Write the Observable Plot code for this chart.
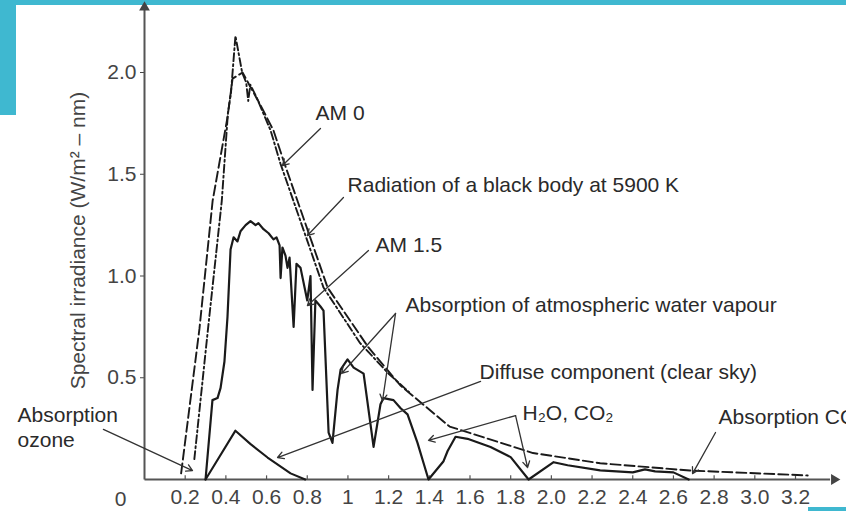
<!DOCTYPE html>
<html><head><meta charset="utf-8">
<script src="https://cdn.jsdelivr.net/npm/d3@7"></script>
<script src="https://cdn.jsdelivr.net/npm/@observablehq/plot@0.6"></script>
<style>
html,body{margin:0;padding:0;background:#fff;}
#wrap{position:relative;width:846px;height:511px;overflow:hidden;background:#fff;}
#wrap svg{position:absolute;left:0;top:0;}
.deco{position:absolute;background:#3fb8d0;}
</style></head><body>
<div id="wrap">
  <div class="deco" style="left:0;top:0;width:846px;height:5px"></div>
  <div class="deco" style="left:0;top:0;width:16px;height:115px"></div>
  <div class="deco" style="left:808px;top:507px;width:38px;height:4px"></div>
</div>
<script>
// ---- data (wavelength in µm, irradiance in W/m²·nm) ----
const blackBodyX = [0.18, 0.27, 0.335, 0.408, 0.433, 0.482, 0.52, 0.57, 0.634, 0.688, 0.82, 0.90, 1.10, 1.26, 1.50, 1.91, 2.24, 2.68, 3.26];
const blackBodyY = [0.03, 0.74, 1.37, 1.78, 1.97, 2.00, 1.93, 1.84, 1.715, 1.553, 1.174, 0.943, 0.65, 0.46, 0.26, 0.13, 0.08, 0.044, 0.02];

const am0X = [0.245, 0.31, 0.38, 0.41, 0.425, 0.447, 0.48, 0.50, 0.51, 0.52, 0.55, 0.62, 0.668, 0.80, 0.88, 1.06, 1.20, 1.30];
const am0Y = [0.10, 0.72, 1.37, 1.80, 1.90, 2.18, 2.00, 1.95, 1.86, 1.94, 1.88, 1.715, 1.553, 1.174, 0.943, 0.67, 0.52, 0.43];

const am15X = [0.30, 0.334, 0.359, 0.374, 0.393, 0.408, 0.423, 0.438, 0.457, 0.472, 0.497, 0.521, 0.546, 0.56, 0.585, 0.61, 0.634, 0.649, 0.664, 0.669, 0.678, 0.693, 0.703, 0.713, 0.733, 0.747, 0.767, 0.80, 0.816, 0.826, 0.84, 0.865, 0.88, 0.905, 0.924, 0.949, 0.964, 0.998, 1.028, 1.077, 1.126, 1.160, 1.175, 1.224, 1.259, 1.293, 1.342, 1.372, 1.396, 1.470, 1.490, 1.529, 1.588, 1.701, 1.80, 1.888, 2.011, 2.08, 2.24, 2.40, 2.46, 2.51, 2.60, 2.675];
const am15Y = [0.00, 0.39, 0.40, 0.45, 0.58, 0.80, 1.13, 1.19, 1.17, 1.22, 1.25, 1.27, 1.25, 1.26, 1.23, 1.21, 1.18, 1.19, 1.15, 0.99, 1.14, 1.10, 1.04, 1.09, 0.75, 1.06, 1.04, 0.88, 1.00, 0.44, 0.88, 0.85, 0.83, 0.23, 0.18, 0.44, 0.54, 0.59, 0.55, 0.52, 0.16, 0.37, 0.40, 0.39, 0.35, 0.32, 0.18, 0.08, 0.00, 0.09, 0.14, 0.21, 0.20, 0.16, 0.11, 0.00, 0.085, 0.07, 0.045, 0.035, 0.05, 0.04, 0.035, 0.00];

const diffuseX = [0.30, 0.447, 0.52, 0.605, 0.718, 0.79];
const diffuseY = [0.00, 0.24, 0.175, 0.108, 0.03, 0.00];

const xTicks = [0.2, 0.4, 0.6, 0.8, 1.0, 1.2, 1.4, 1.6, 1.8, 2.0, 2.2, 2.4, 2.6, 2.8, 3.0, 3.2];
const xTickLabels = ["0.2","0.4","0.6","0.8","1","1.2","1.4","1.6","1.8","2.0","2.2","2.4","2.6","2.8","3.0","3.2"];
const yTicks = [0.5, 1.0, 1.5, 2.0];
const yTickLabels = ["0.5","1.0","1.5","2.0"];

const annotText = ["AM 0", "Radiation of a black body at 5900 K", "AM 1.5", "Absorption of atmospheric water vapour", "Diffuse component (clear sky)", "H\u2082O, CO\u2082", "Absorption CO\u2082", "Absorption", "ozone"];
const annotX = [0.841, 0.998, 1.136, 1.283, 1.647, 1.858, 2.822, -0.624, -0.624];
const annotY = [1.799, 1.445, 1.150, 0.855, 0.526, 0.324, 0.305, 0.314, 0.192];

// leader lines: from (x1,y1) to (x2,y2)
const leaderX1 = [0.865, 0.978, 1.101, 1.234, 1.234, 1.652, 1.824, 1.824, 2.807, -0.202];
const leaderY1 = [1.725, 1.386, 1.125, 0.816, 0.816, 0.482, 0.314, 0.314, 0.231, 0.246];
const leaderX2 = [0.678, 0.801, 0.801, 0.969, 1.170, 0.654, 1.396, 1.883, 2.694, 0.236];
const leaderY2 = [1.543, 1.199, 0.855, 0.521, 0.388, 0.108, 0.192, 0.059, 0.029, 0.044];

const yAxisLabel = "Spectral irradiance (W/m\u00b2 \u2013 nm)";

// ---- build tables ----
const toRows = (xs, ys) => xs.map((x, i) => ({x, y: ys[i]}));
const blackBody = toRows(blackBodyX, blackBodyY);
const am0 = toRows(am0X, am0Y);
const am15 = toRows(am15X, am15Y);
const diffuse = toRows(diffuseX, diffuseY);
const annots = annotText.map((t, i) => ({t, x: annotX[i], y: annotY[i]}));
const leaders = leaderX1.map((x1, i) => ({x1, y1: leaderY1[i], x2: leaderX2[i], y2: leaderY2[i]}));
const xLab = new Map(xTicks.map((t, i) => [t, xTickLabels[i]]));
const yLab = new Map(yTicks.map((t, i) => [t, yTickLabels[i]]));

const FONT = "'Liberation Sans', Arial, Helvetica, sans-serif";
const ink = "#1a1a1a";

const chart = Plot.plot({
  width: 846, height: 511,
  marginLeft: 144, marginRight: 51, marginTop: 72, marginBottom: 32,
  x: {domain: [0, 3.2]},
  y: {domain: [0, 2]},
  style: {fontFamily: FONT, background: "transparent", overflow: "visible"},
  marks: [
    Plot.axisY({ticks: yTicks, tickFormat: d => yLab.get(d), tickSize: 4, tickPadding: 4, fontSize: 21, color: "#444", label: null}),
    Plot.axisX({ticks: xTicks, tickFormat: d => xLab.get(d), tickSize: 0, tickPadding: 10, fontSize: 21, color: "#444", label: null}),
    Plot.text([{t: "0", x: 0, y: 0}], {x: "x", y: "y", text: "t", dx: -24, dy: 20, fontSize: 21, fill: "#444"}),
    Plot.ruleX(xTicks, {x: d => d, y1: 0, y2: 0.018, stroke: "#555", strokeWidth: 1.2}),
    // axis lines with arrowheads
    Plot.link([{x1: 0, y1: 0, x2: 3.37, y2: 0}], {x1: "x1", y1: "y1", x2: "x2", y2: "y2", stroke: "#555", strokeWidth: 2}),
    Plot.link([{x1: 0, y1: 0, x2: 0, y2: 2.31}], {x1: "x1", y1: "y1", x2: "x2", y2: "y2", stroke: "#555", strokeWidth: 2}),
    Plot.dot([{x: 3.39, y: 0}], {x: "x", y: "y", symbol: "triangle", r: 4, fill: "#444", stroke: "none", rotate: 90}),
    Plot.dot([{x: 0, y: 2.32}], {x: "x", y: "y", symbol: "triangle", r: 4, fill: "#444", stroke: "none"}),
    // curves
    Plot.line(diffuse, {x: "x", y: "y", stroke: ink, strokeWidth: 2.1}),
    Plot.line(am15, {x: "x", y: "y", stroke: ink, strokeWidth: 2.2, strokeLinejoin: "round"}),
    Plot.line(am0, {x: "x", y: "y", stroke: ink, strokeWidth: 1.9, strokeDasharray: "8,3,2,3"}),
    Plot.line(blackBody, {x: "x", y: "y", stroke: ink, strokeWidth: 1.9, strokeDasharray: "10,4"}),
    // leader lines
    Plot.arrow(leaders, {x1: "x1", y1: "y1", x2: "x2", y2: "y2", stroke: "#333", strokeWidth: 1.3, headLength: 8}),
    // annotations
    Plot.text(annots, {x: "x", y: "y", text: "t", textAnchor: "start", fontSize: 21, fill: "#2a2a2a"}),
    Plot.text([{t: yAxisLabel, x: -0.324, y: 1.174}], {x: "x", y: "y", text: "t", rotate: -90, fontSize: 21, fill: "#444"})
  ]
});
document.getElementById("wrap").appendChild(chart);
</script>
</body></html>
